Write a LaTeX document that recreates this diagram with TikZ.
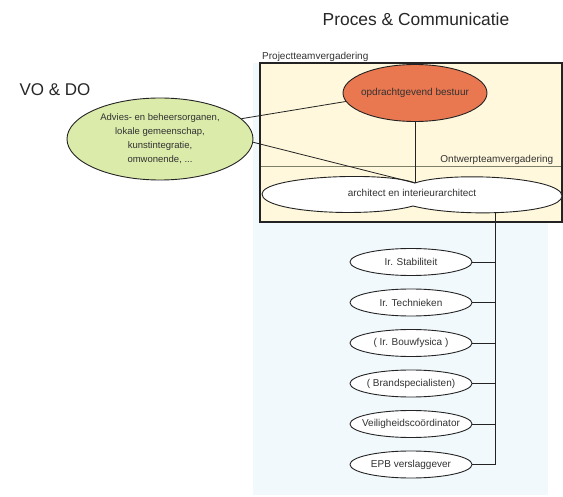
\documentclass[tikz,border=0pt]{standalone}
\usepackage{fontspec}
\setmainfont{Liberation Sans}
\usetikzlibrary{shapes.geometric}
\definecolor{bluebg}{RGB}{241,249,253}
\definecolor{yellowbg}{RGB}{255,248,220}
\definecolor{orangefill}{RGB}{233,119,80}
\definecolor{greenfill}{RGB}{219,235,170}
\definecolor{txt}{RGB}{50,50,50}
\definecolor{ln}{RGB}{35,35,35}
\definecolor{divline}{RGB}{125,128,105}
\begin{document}
\begin{tikzpicture}[x=1pt,y=-1pt,
  every node/.style={font=\fontsize{10}{12}\selectfont, text=txt},
  ell/.style={ellipse, draw=ln, line width=0.9pt, inner sep=0pt},
  member/.style={ell, fill=white, minimum width=122pt, minimum height=27pt},
  conn/.style={draw=ln, line width=0.8pt}]
\useasboundingbox (0,0) rectangle (563,497);
% backgrounds
\fill[bluebg] (253,63) rectangle (548,495);
\draw[line width=2pt, draw=ln, fill=yellowbg] (260,63) rectangle (562,222);
\draw[divline, line width=0.8pt] (261,166) -- (561,166);
% titles and labels
\node[font=\fontsize{17.4}{20}\selectfont, text=black!85] (title) at (416,19) {Proces \& Communicatie};
\node[font=\fontsize{17}{20}\selectfont, text=black!85] (vodo) at (55,90) {VO \& DO};
\node[anchor=base west, inner sep=0pt] (projlabel) at (262,60) {Projectteamvergadering};
\node[anchor=south east, inner sep=1.5pt] (ontlabel) at (555,166) {Ontwerpteamvergadering};
% nodes
\node[ell, fill=greenfill, minimum width=186pt, minimum height=82pt] (green) at (160,139)
  {\makebox[0pt]{\fontsize{9.5}{14}\selectfont\begin{tabular}{@{}c@{}}Advies- en beheersorganen,\\lokale gemeenschap,\\kunstintegratie,\\omwonende, ...\end{tabular}}};
\node[ell, fill=orangefill, minimum width=144pt, minimum height=57pt] (orange) at (415,93)
  {\makebox[0pt]{opdrachtgevend bestuur}};
% architect cloud shape
\draw[ln, line width=0.9pt, fill=white] (262,194) .. controls (262,176) and (385,171) .. (415,183)
  .. controls (450,171) and (562,177) .. (562,196)
  .. controls (562,214) and (460,218) .. (413,206)
  .. controls (370,218) and (262,213) .. (262,194) -- cycle;
\node (arch) at (412,193) {architect en interieurarchitect};
\coordinate (archtop) at (415,183);
\coordinate (archbot) at (495,212.7);
\coordinate (vend) at (495,464.5);
% members
\node[member] (m1) at (411,262) {\makebox[0pt]{Ir. Stabiliteit}};
\node[member] (m2) at (411,302.5) {\makebox[0pt]{Ir. Technieken}};
\node[member] (m3) at (411,343) {\makebox[0pt]{( Ir. Bouwfysica )}};
\node[member] (m4) at (411,383.5) {\makebox[0pt]{( Brandspecialisten)}};
\node[member] (m5) at (411,424) {\makebox[0pt]{Veiligheidscoördinator}};
\node[member] (m6) at (411,464.5) {\makebox[0pt]{EPB verslaggever}};
% connectors
\draw[conn] (green.14) -- (orange.187);
\draw[conn] (green.-2) -- (archtop);
\draw[conn] (orange.south) -- (archtop);
\draw[conn] (archbot) -- (vend);
\foreach \m in {m1,m2,m3,m4,m5,m6}
  \draw[conn] (\m.east) -- (\m.east -| archbot);
\end{tikzpicture}
\end{document}
